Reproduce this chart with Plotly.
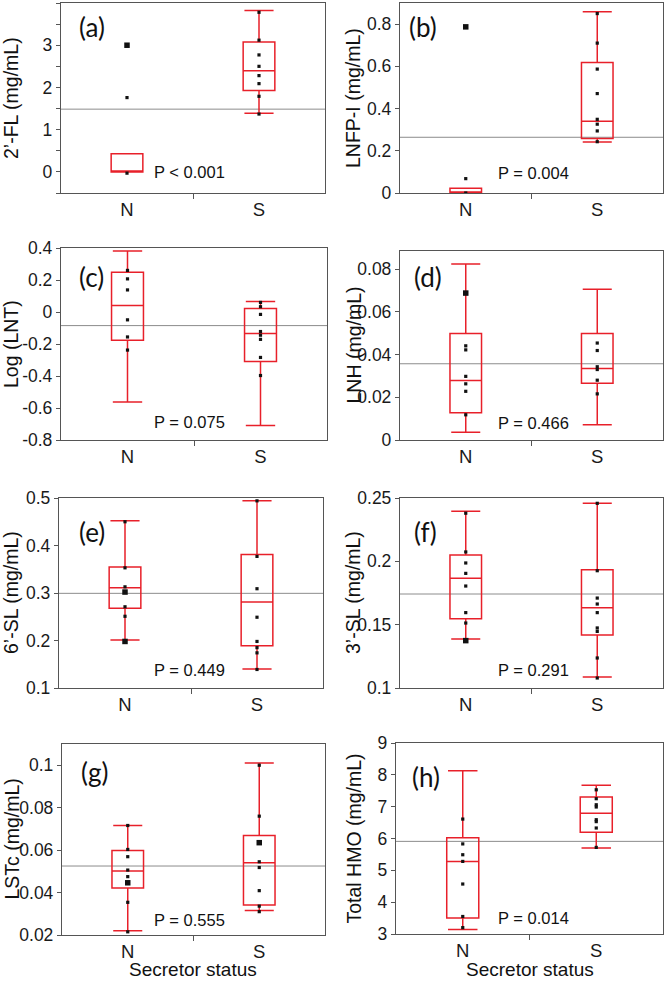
import plotly.graph_objects as go

# ---------------- data ----------------
groups = ["N", "S"]
panel_tags = ["(a)", "(b)", "(c)", "(d)", "(e)", "(f)", "(g)", "(h)"]
y_titles = ["2’-FL (mg/mL)", "LNFP-I (mg/mL)", "Log (LNT)", "LNH (mg/mL)",
            "6’-SL (mg/mL)", "3’-SL (mg/mL)", "LSTc (mg/mL)", "Total HMO (mg/mL)"]
p_labels = ["P < 0.001", "P = 0.004", "P = 0.075", "P = 0.466",
            "P = 0.449", "P = 0.291", "P = 0.555", "P = 0.014"]
x_title = "Secretor status"

# box statistics per panel: (N, S)
q1_vals = [(0.0, 1.93), (0.0, 0.258), (-0.177, -0.309), (0.0128, 0.0266),
           (0.268, 0.189), (0.1547, 0.1418), (0.0421, 0.0341), (3.50, 6.20)]
median_vals = [(0.0, 2.395), (0.004, 0.34), (0.041, -0.135), (0.0279, 0.0335),
               (0.311, 0.281), (0.1866, 0.1634), (0.0501, 0.054), (5.28, 6.79)]
q3_vals = [(0.43, 3.075), (0.022, 0.618), (0.249, 0.022), (0.0499, 0.0499),
           (0.355, 0.381), (0.205, 0.1934), (0.0598, 0.0669), (6.02, 7.30)]
lower_vals = [(0.0, 1.39), (0.0, 0.242), (-0.563, -0.71), (0.0036, 0.0071),
              (0.201, 0.14), (0.1387, 0.1087), (0.022, 0.0316), (3.14, 5.70)]
upper_vals = [(0.43, 3.82), (0.022, 0.858), (0.381, 0.066), (0.0824, 0.0706),
              (0.452, 0.494), (0.2395, 0.2458), (0.0716, 0.101), (8.13, 7.67)]
# overall reference (grey) line per panel
ref_vals = [1.486, 0.264, -0.085, 0.0357, 0.2993, 0.1742, 0.0525, 5.91]

# individual points
pts_N = [[1.76, -0.03],
         [0.068, 0.0],
         [0.26, 0.207, 0.138, -0.049, -0.156, -0.238],
         [0.0441, 0.0422, 0.0298, 0.0263, 0.0228, 0.0118],
         [0.45, 0.353, 0.313, 0.271, 0.251],
         [0.238, 0.2074, 0.1987, 0.1905, 0.1805, 0.1595, 0.1513],
         [0.0716, 0.0603, 0.0569, 0.0506, 0.0475, 0.0354, 0.0215],
         [6.61, 5.83, 5.49, 5.28, 4.57, 3.55, 3.2]]
pts_S = [[3.78, 3.12, 2.77, 2.50, 2.28, 2.09, 1.79, 1.37],
         [0.85, 0.71, 0.587, 0.471, 0.349, 0.326, 0.294, 0.243],
         [0.06, 0.033, -0.015, -0.122, -0.145, -0.171, -0.284, -0.397],
         [0.0454, 0.0419, 0.0343, 0.033, 0.028, 0.0216],
         [0.494, 0.377, 0.309, 0.249, 0.198, 0.185, 0.174, 0.139],
         [0.2458, 0.1926, 0.171, 0.1663, 0.1595, 0.1474, 0.1447, 0.1237, 0.1079],
         [0.1, 0.076, 0.0545, 0.0518, 0.0409, 0.0336, 0.031],
         [7.53, 7.25, 7.06, 6.99, 6.59, 6.53, 6.33, 5.72]]
# values where two samples coincide (drawn as larger squares)
dup_N = [[3.0], [0.787], [], [0.0688], [0.302, 0.198], [0.1374], [0.0446], []]
dup_S = [[], [], [], [], [], [], [0.0635], []]

# axes
y_ranges = [(-0.5, 4.0), (0, 0.9), (-0.8, 0.4), (0, 0.0885),
            (0.1, 0.5), (0.1, 0.25), (0.02, 0.11), (3, 9)]
tick_vals = [[0, 1, 2, 3, 4], [0, 0.2, 0.4, 0.6, 0.8],
             [-0.8, -0.6, -0.4, -0.2, 0, 0.2, 0.4], [0, 0.02, 0.04, 0.06, 0.08],
             [0.1, 0.2, 0.3, 0.4, 0.5], [0.1, 0.15, 0.2, 0.25],
             [0.02, 0.04, 0.06, 0.08, 0.1], [3, 4, 5, 6, 7, 8, 9]]
tick_texts = [["0", "1", "2", "3", "4"], ["0", "0.2", "0.4", "0.6", "0.8"],
              ["-0.8", "-0.6", "-0.4", "-0.2", "0", "0.2", "0.4"],
              ["0", "0.02", "0.04", "0.06", "0.08"],
              ["0.1", "0.2", "0.3", "0.4", "0.5"], ["0.1", "0.15", "0.2", "0.25"],
              ["0.02", "0.04", "0.06", "0.08", "0.1"],
              ["3", "4", "5", "6", "7", "8", "9"]]

# ---------------- layout / style ----------------
W, H = 666, 982
RED = "#e8202a"
FRAME = "#555555"
GREY = "#8c8c8c"
FONT = "Liberation Sans, Arial, sans-serif"

# plot-area boxes in pixels: (left, right, top, bottom)
boxes_px = [(61, 325, 3, 193), (400, 663, 3, 193),
            (61, 327, 248, 440), (400, 663, 251, 440),
            (59, 323, 498, 688), (400, 663, 498, 688),
            (62, 325, 744, 935), (396, 663, 743, 934)]
tag_pos = [(0.061, 0.874), (0.027, 0.874), (0.06, 0.849), (0.046, 0.862),
           (0.068, 0.821), (0.046, 0.821), (0.065, 0.853), (0.052, 0.822)]
p_pos = [(0.345, 0.0), (0.365, 0.095), (0.342, -0.69), (0.365, 0.0079),
         (0.352, 0.137), (0.365, 0.114), (0.342, 0.027), (0.375, 3.5)]

xpos = list(range(len(groups)))

fig = go.Figure()
annotations = []
shapes = []
layout_axes = {}

for i in range(8):
    n = i + 1
    xa = "x" if n == 1 else f"x{n}"
    ya = "y" if n == 1 else f"y{n}"
    l, r, t, b = boxes_px[i]

    # grey reference line
    shapes.append(dict(type="line", xref=f"{xa} domain", yref=ya,
                       x0=0, x1=1, y0=ref_vals[i], y1=ref_vals[i],
                       line=dict(color=GREY, width=1), layer="below"))

    fig.add_trace(go.Box(
        x=xpos, q1=list(q1_vals[i]), median=list(median_vals[i]),
        q3=list(q3_vals[i]), lowerfence=list(lower_vals[i]),
        upperfence=list(upper_vals[i]),
        xaxis=xa, yaxis=ya, width=0.24, whiskerwidth=0.92,
        line=dict(color=RED, width=1.5), fillcolor="rgba(0,0,0,0)",
        boxpoints=False, hoverinfo="skip", showlegend=False))

    for gi, plist, dlist in ((0, pts_N[i], dup_N[i]), (1, pts_S[i], dup_S[i])):
        if plist:
            fig.add_trace(go.Scatter(
                x=[xpos[gi]] * len(plist), y=plist, mode="markers",
                marker=dict(symbol="square", size=3.2, color="#111111"),
                xaxis=xa, yaxis=ya, hoverinfo="skip", showlegend=False))
        if dlist:
            fig.add_trace(go.Scatter(
                x=[xpos[gi]] * len(dlist), y=dlist, mode="markers",
                marker=dict(symbol="square", size=5.5, color="#111111"),
                xaxis=xa, yaxis=ya, hoverinfo="skip", showlegend=False))

    key_x = "xaxis" if n == 1 else f"xaxis{n}"
    key_y = "yaxis" if n == 1 else f"yaxis{n}"
    layout_axes[key_x] = dict(
        domain=[l / W, r / W], anchor=ya, range=[-0.5, len(groups) - 0.5],
        tickmode="array", tickvals=xpos, ticktext=groups, ticks="",
        minor=dict(tickmode="array", tickvals=[0.5], ticks="outside",
                   ticklen=5, tickcolor=FRAME, tickwidth=1),
        showline=True, mirror=True, linecolor=FRAME, linewidth=1.3,
        showgrid=False, zeroline=False, automargin=False,
        tickfont=dict(family=FONT, size=18.5, color="#1a1a1a"), fixedrange=True)
    ydict = dict(
        domain=[1 - b / H, 1 - t / H], anchor=xa, range=list(y_ranges[i]),
        tickmode="array", tickvals=tick_vals[i], ticktext=tick_texts[i],
        ticks="outside", ticklen=4, tickcolor=FRAME, tickwidth=1,
        showline=True, mirror=True, linecolor=FRAME, linewidth=1.3,
        showgrid=False, zeroline=False, automargin=False,
        tickfont=dict(family=FONT, size=17.5, color="#1a1a1a"), fixedrange=True)
    if n == 1:
        ydict["minor"] = dict(tickmode="array", tickvals=[-0.5, 0.5, 1.5, 2.5, 3.5],
                              ticks="outside", ticklen=4, tickcolor=FRAME)
    layout_axes[key_y] = ydict

    # panel tag
    annotations.append(dict(
        text=panel_tags[i], xref=f"{xa} domain", yref=f"{ya} domain",
        x=tag_pos[i][0], y=tag_pos[i][1], xanchor="left", yanchor="middle",
        showarrow=False, font=dict(family="Lato, Noto Sans, sans-serif", size=26, color="#111111")))
    # p-value
    annotations.append(dict(
        text=p_labels[i], xref=f"{xa} domain", yref=ya,
        x=p_pos[i][0], y=p_pos[i][1], xanchor="left", yanchor="middle",
        showarrow=False, font=dict(family=FONT, size=16.5, color="#111111")))
    # y title
    tx = 11 if l < 200 else 353
    annotations.append(dict(
        text=y_titles[i], xref="paper", yref="paper",
        x=tx / W, y=1 - (t + b) / 2 / H, xanchor="center", yanchor="middle",
        textangle=-90, showarrow=False,
        font=dict(family=FONT, size=19.5, color="#111111")))
    # bottom row x title
    if n >= 7:
        annotations.append(dict(
            text=x_title, xref="paper", yref="paper",
            x=(l + r) / 2 / W, y=1 - 981 / H, xanchor="center", yanchor="bottom",
            showarrow=False, borderpad=0,
            font=dict(family=FONT, size=19, color="#111111")))

fig.update_layout(
    width=W, height=H, margin=dict(l=0, r=0, t=0, b=0, autoexpand=False),
    paper_bgcolor="white", plot_bgcolor="white", showlegend=False,
    annotations=annotations, shapes=shapes, **layout_axes)

fig.write_html("out.html", config={"displayModeBar": False},
               post_script="document.body.style.margin='0';document.body.style.overflow='hidden';")
